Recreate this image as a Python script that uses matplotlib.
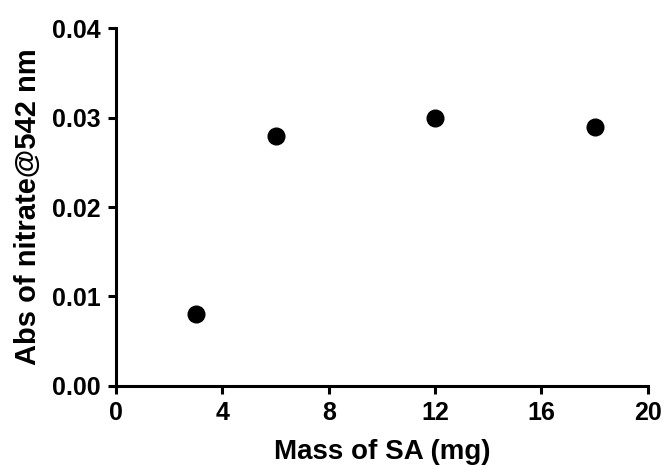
import matplotlib
matplotlib.use('Agg')
import matplotlib.pyplot as plt

mass_sa = [3, 6, 12, 18]
abs_nitrate = [0.008, 0.028, 0.030, 0.029]
x_ticks = [0, 4, 8, 12, 16, 20]
y_ticks = [0.00, 0.01, 0.02, 0.03, 0.04]

plt.rcParams['font.family'] = ['Liberation Sans', 'DejaVu Sans']
plt.rcParams['font.weight'] = 'bold'

fig = plt.figure(figsize=(6.63, 4.70), dpi=100)
ax = fig.add_axes([0.175, 0.179, 0.802, 0.761])

ax.plot(mass_sa, abs_nitrate, 'o', color='black', markersize=12, clip_on=False)

ax.set_xlim(0, 20)
ax.set_ylim(0, 0.04)
ax.set_xticks(x_ticks)
ax.set_yticks(y_ticks)
ax.set_yticklabels([f"{v:.2f}" for v in y_ticks])

for side in ['top', 'right']:
    ax.spines[side].set_visible(False)
for side in ['left', 'bottom']:
    ax.spines[side].set_linewidth(2.2)

ax.tick_params(axis='both', width=2.2, length=6, labelsize=18, direction='out', pad=5)
for lbl in ax.get_xticklabels() + ax.get_yticklabels():
    lbl.set_fontweight('bold')

ax.set_xlabel('Mass of SA (mg)', fontsize=20, fontweight='bold', labelpad=10)
ax.set_ylabel('Abs of nitrate@542 nm', fontsize=21, fontweight='bold', labelpad=7)

plt.savefig('out.png', dpi=100)
plt.close()
